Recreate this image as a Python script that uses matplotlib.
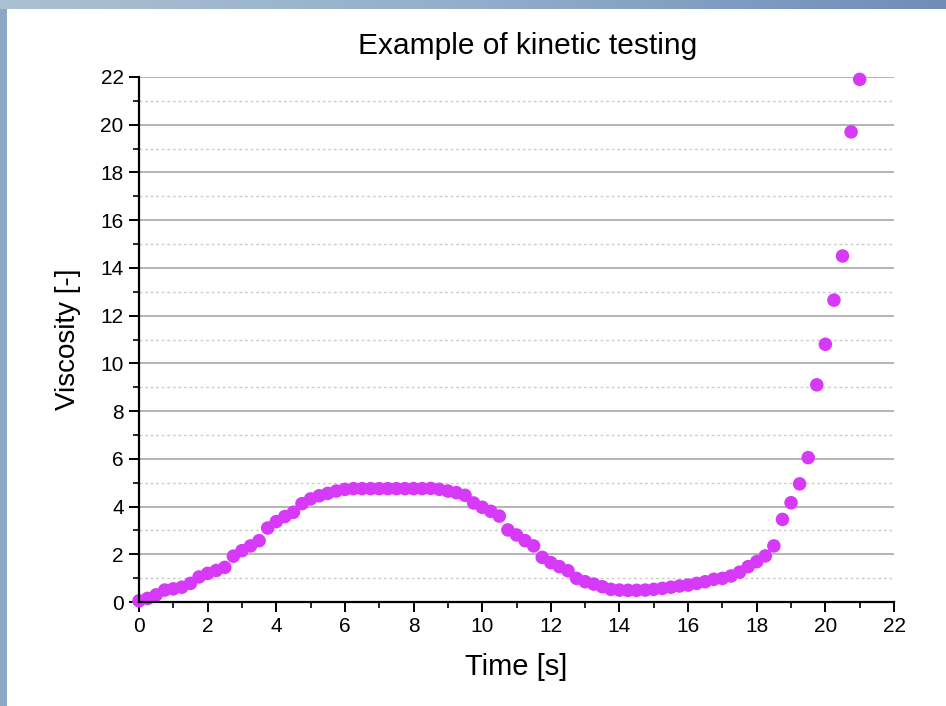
import matplotlib
matplotlib.use("Agg")
import matplotlib.pyplot as plt
import numpy as np
from matplotlib.ticker import MultipleLocator


# time axis, one reading every 0.25 s
time_s = [
    0.0, 0.25, 0.5, 0.75, 1.0, 1.25, 1.5, 1.75, 2.0, 2.25, 2.5, 2.75,
    3.0, 3.25, 3.5, 3.75, 4.0, 4.25, 4.5, 4.75, 5.0, 5.25, 5.5, 5.75,
    6.0, 6.25, 6.5, 6.75, 7.0, 7.25, 7.5, 7.75, 8.0, 8.25, 8.5, 8.75,
    9.0, 9.25, 9.5, 9.75, 10.0, 10.25, 10.5, 10.75, 11.0, 11.25, 11.5, 11.75,
    12.0, 12.25, 12.5, 12.75, 13.0, 13.25, 13.5, 13.75, 14.0, 14.25, 14.5, 14.75,
    15.0, 15.25, 15.5, 15.75, 16.0, 16.25, 16.5, 16.75, 17.0, 17.25, 17.5, 17.75,
    18.0, 18.25, 18.5, 18.75, 19.0, 19.25, 19.5, 19.75, 20.0, 20.25, 20.5, 20.75,
    21.0,
]

viscosity = [
    0.05, 0.15, 0.3, 0.5, 0.55, 0.62, 0.78, 1.05, 1.2, 1.32, 1.45, 1.92,
    2.15, 2.35, 2.57, 3.1, 3.37, 3.58, 3.76, 4.12, 4.32, 4.45, 4.55, 4.65,
    4.72, 4.75, 4.75, 4.75, 4.75, 4.75, 4.75, 4.75, 4.75, 4.75, 4.76, 4.72,
    4.65, 4.58, 4.47, 4.15, 3.97, 3.8, 3.6, 3.02, 2.81, 2.57, 2.35, 1.87,
    1.65, 1.48, 1.31, 0.99, 0.85, 0.75, 0.64, 0.53, 0.5, 0.49, 0.49, 0.5,
    0.53, 0.57, 0.62, 0.67, 0.71, 0.78, 0.85, 0.95, 0.99, 1.09, 1.25, 1.48,
    1.69, 1.93, 2.35, 3.46, 4.16, 4.95, 6.05, 9.1, 10.8, 12.65, 14.5, 19.7,
    21.9,
]

MARKER_COLOR = "#d63af8"


def draw_frame(fig):
    # window chrome visible in the screenshot: top and left blue bands
    top = fig.add_axes([0, 1 - 9 / 706, 1, 9 / 706])
    grad = np.linspace(0, 1, 256).reshape(1, -1)
    cmap = matplotlib.colors.LinearSegmentedColormap.from_list(
        "chrome", ["#a9c1d1", "#93aecb", "#6f8db8"]
    )
    top.imshow(grad, aspect="auto", cmap=cmap)
    top.axis("off")

    left = fig.add_axes([0, 0, 7 / 946, 1 - 9 / 706])
    left.set_facecolor("#8ea8c4")
    left.set_xticks([])
    left.set_yticks([])
    for spine in left.spines.values():
        spine.set_visible(False)


def plot_kinetics():
    plt.rcParams["font.family"] = ["Liberation Sans", "DejaVu Sans"]

    fig = plt.figure(figsize=(9.46, 7.06), dpi=100)
    ax = fig.add_axes([139 / 946, 1 - 602 / 706, 755 / 946, 525 / 706])

    ax.scatter(time_s, viscosity, s=95, color=MARKER_COLOR,
               edgecolors="none", zorder=3, clip_on=False)

    ax.set_xlim(0, 22)
    ax.set_ylim(0, 22)
    ax.xaxis.set_major_locator(MultipleLocator(2))
    ax.xaxis.set_minor_locator(MultipleLocator(1))
    ax.yaxis.set_major_locator(MultipleLocator(2))
    ax.yaxis.set_minor_locator(MultipleLocator(1))

    ax.grid(True, axis="y", which="major", color="#a8a8a8", linewidth=1.2)
    ax.grid(True, axis="y", which="minor", color="#cccccc",
            linewidth=1.0, linestyle=(0, (2, 2)))
    ax.set_axisbelow(True)

    for side in ("top", "right"):
        ax.spines[side].set_visible(False)
    for side in ("left", "bottom"):
        ax.spines[side].set_linewidth(1.6)
        ax.spines[side].set_zorder(4)

    ax.tick_params(which="major", direction="out", length=7, width=1.4,
                   labelsize=15, pad=4)
    ax.tick_params(which="minor", direction="out", length=4, width=1.2)

    ax.set_xlabel("Time [s]", fontsize=21, labelpad=12)
    ax.set_ylabel("Viscosity [-]", fontsize=20, labelpad=14)
    fig.text(0.558, 0.935, "Example of kinetic testing", fontsize=21.5,
             ha="center", va="center")

    draw_frame(fig)

    fig.savefig("out.png", dpi=100)
    plt.close(fig)


if __name__ == "__main__":
    plot_kinetics()
